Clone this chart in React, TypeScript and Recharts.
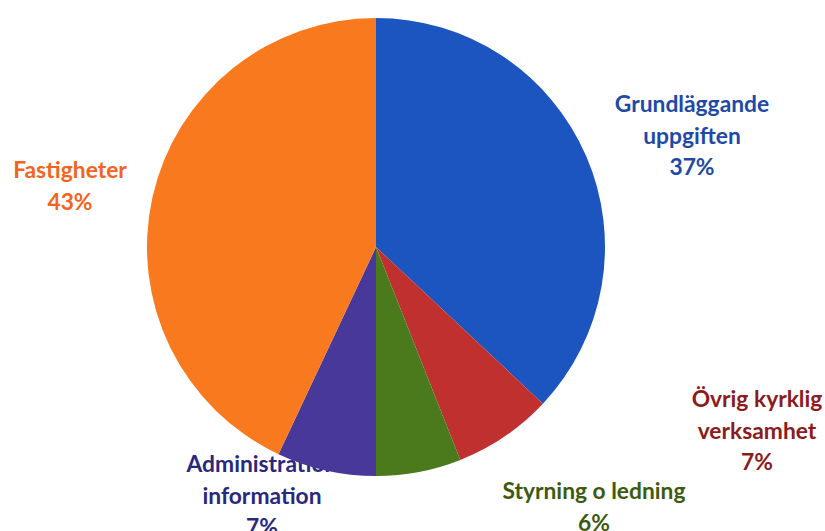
import React from "react";
import { PieChart, Pie, Cell } from "recharts";

const categories = ["Grundläggande uppgiften", "Övrig kyrklig verksamhet", "Styrning o ledning", "Administration information", "Fastigheter"];
const labelLines = [
  ["Grundläggande", "uppgiften"],
  ["Övrig kyrklig", "verksamhet"],
  ["Styrning o ledning"],
  ["Administration", "information"],
  ["Fastigheter"],
];
const values = [37, 7, 6, 7, 43];
const sliceColors = ["#1D55C0", "#BF302E", "#4A7A1C", "#47389A", "#F8791E"];
const textColors = ["#1E49A6", "#8A1B20", "#3E5A0E", "#28287E", "#F26420"];

// label anchor offsets relative to pie centre (layout config)
const labelOffsets = [
  [316, -135],
  [381, 160],
  [218, 252],
  [-114, 225],
  [-306, -69],
];

const data = categories.map((name, i) => ({ name, value: values[i], idx: i }));

const LINE_H = 31.5;

const renderLabel = (props: any) => {
  const { cx, cy, index } = props;
  const [dx, dy] = labelOffsets[index];
  const lines = [...labelLines[index], `${values[index]}%`];
  return (
    <text
      x={cx + dx}
      y={cy + dy}
      textAnchor="middle"
      fill={textColors[index]}
      fontFamily="Lato, 'Open Sans', sans-serif"
      fontWeight={700}
      fontSize={22.8}
    >
      {lines.map((l, i) => (
        <tspan key={i} x={cx + dx} dy={i === 0 ? 0 : LINE_H}>
          {l}
        </tspan>
      ))}
    </text>
  );
};

const layer: React.CSSProperties = { position: "absolute", left: 0, top: 0, width: 825, height: 531 };

export default function App() {
  return (
    <div style={{ ...layer, background: "#fff" }}>
      <div style={layer}>
        <PieChart width={825} height={531} margin={{ top: 0, right: 0, bottom: 0, left: 0 }}>
          <Pie
            data={data}
            dataKey="value"
            cx={376}
            cy={247}
            outerRadius={229}
            startAngle={90}
            endAngle={-270}
            isAnimationActive={false}
            label={renderLabel}
            labelLine={false}
            stroke="none"
            fill="none"
          >
            {data.map((d, i) => (
              <Cell key={i} fill="none" stroke="none" />
            ))}
          </Pie>
        </PieChart>
      </div>
      <div style={layer}>
        <PieChart width={825} height={531} margin={{ top: 0, right: 0, bottom: 0, left: 0 }}>
          <Pie
            data={data}
            dataKey="value"
            cx={376}
            cy={247}
            outerRadius={229}
            startAngle={90}
            endAngle={-270}
            isAnimationActive={false}
            stroke="none"
          >
            {data.map((d, i) => (
              <Cell key={i} fill={sliceColors[i]} stroke="none" />
            ))}
          </Pie>
        </PieChart>
      </div>
    </div>
  );
}
